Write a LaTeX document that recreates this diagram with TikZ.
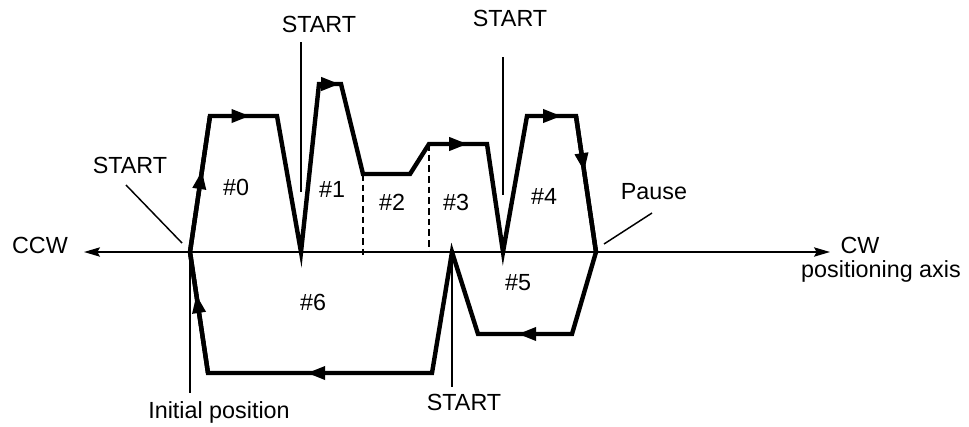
\documentclass[tikz,border=0pt]{standalone}
\usepackage{fontspec}
\setmainfont{Liberation Sans}
\usetikzlibrary{arrows.meta,decorations.markings}

\tikzset{
  motion/.style={line width=3.3pt, line join=miter},
  guide/.style={line width=1.1pt},
  border/.style={line width=1.4pt, dash pattern=on 5pt off 3pt},
  dir/.style={postaction={decorate}, decoration={markings,
      mark=at position #1 with {\arrow{Triangle[length=14pt,width=9.5pt]}}}},
  lbl/.style={anchor=base, inner sep=0pt, font=\fontsize{17.5}{20}\selectfont},
}

\begin{document}
\begin{tikzpicture}[x=0.75pt, y=-0.75pt]
    \useasboundingbox (0,0) rectangle (969,426);

    % corners of the motion path
    \coordinate (o)  at (190,252);
    \coordinate (a1) at (210,116);
    \coordinate (a2) at (277,116);
    \coordinate (v1) at (301,252);
    \coordinate (b1) at (319,84);
    \coordinate (b2) at (341,84);
    \coordinate (c1) at (363,174);
    \coordinate (c2) at (410,174);
    \coordinate (d1) at (429,144);
    \coordinate (d2) at (487,144);
    \coordinate (v2) at (503,252);
    \coordinate (e1) at (527,116);
    \coordinate (e2) at (576,116);
    \coordinate (f)  at (596,252);
    \coordinate (g1) at (572,334);
    \coordinate (g2) at (478,334);
    \coordinate (h)  at (452,252);
    \coordinate (k1) at (432,373);
    \coordinate (k2) at (208,373);

    % axis
    \coordinate (left) at (84,252);
    \coordinate (right) at (830,252);
    \draw[guide, {Stealth[length=12pt,width=7pt,inset=2pt]}-{Stealth[length=12pt,width=7pt,inset=2pt]}] (left) -- (right);
    \node[lbl] (ccw) at (40,253) {CCW};
    \node[lbl] (cw) at (860,253) {CW};
    \node[lbl] (axis) at (881,277) {positioning axis};

    % segment borders
    \draw[border] (c1) -- (c1 |- 0,259);
    \draw[border] (d1) -- (d1 |- 0,252);

    % motion path
    \draw[motion] (o) -- (a1) -- (a2) -- (v1) -- (b1) -- (b2) -- (c1) -- (c2)
        -- (d1) -- (d2) -- (v2) -- (e1) -- (e2) -- (f) -- (g1) -- (g2)
        -- (h) -- (k1) -- (k2) -- cycle;
    \draw[motion, dir=0.6] (o) -- (a1);
    \draw[motion, dir=0.6] (a1) -- (a2);
    \draw[motion, dir=0.95] (b1) -- (b2);
    \draw[motion, dir=0.67] (d1) -- (d2);
    \draw[motion, dir=0.71] (e1) -- (e2);
    \draw[motion, dir=0.41] (e2) -- (f);
    \draw[motion, dir=0.58] (g1) -- (g2);
    \draw[motion, dir=0.56] (k1) -- (k2);
    \draw[motion, dir=0.65] (k2) -- (o);

    % segment numbers
    \foreach \n/\x/\y in {0/236/195, 1/332/197, 2/392/210, 3/456/210,
                          4/544/204, 5/518/290, 6/313/310} {
        \node[lbl] (r\n) at (\x,\y) {\#\n};
    }

    % callouts
    \node[lbl] (st0) at (130,173) {START};
    \node[lbl] (st1) at (319,32) {START};
    \node[lbl] (st2) at (510,26) {START};
    \node[lbl] (st3) at (464,410) {START};
    \node[lbl] (init) at (219,418) {Initial position};
    \node[lbl] (pause) at (654,199) {Pause};

    \draw[guide] (126,185) -- (182,243);
    \draw[guide] (v1 |- 0,42) -- (v1 |- 0,192);
    \draw[guide] (v2 |- 0,57) -- (v2 |- 0,195);
    \draw[guide] (o) -- (o |- 0,393);
    \draw[guide] (h) -- (h |- 0,387);
    \draw[guide] (652,213) -- (604,244);
\end{tikzpicture}
\end{document}
